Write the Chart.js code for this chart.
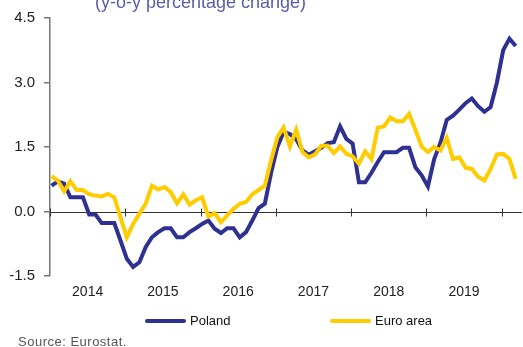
<!DOCTYPE html>
<html>
<head>
<meta charset="utf-8">
<script src="https://cdn.jsdelivr.net/npm/chart.js@4.4.1/dist/chart.umd.min.js"></script>
<style>
  html, body { margin: 0; padding: 0; background: #fff; overflow: hidden; }
  #wrap { position: relative; width: 523px; height: 347px; overflow: hidden; font-family: "Liberation Sans", Arial, sans-serif; }
  #chart { position: absolute; left: 0; top: 0; }
  .caption { position: absolute; white-space: nowrap; }
  #subtitle { left: 95px; top: -7px; font-size: 18px; line-height: 18px; color: #5b5ea8; }
  .key { position: absolute; top: 312px; height: 17px; display: flex; align-items: center; font-size: 13px; color: #111; }
  .key i { display: inline-block; width: 41px; height: 4px; border-radius: 2px; margin-right: 4px; }
  #source { left: 18px; top: 334px; font-size: 13px; line-height: 15px; letter-spacing: 0.5px; color: #555; }
</style>
</head>
<body>
<div id="wrap">
  <canvas id="chart" width="523" height="347"></canvas>
  <div id="subtitle" class="caption">(y-o-y percentage change)</div>
  <div class="key" style="left:145px"><i style="background:#2e3192"></i>Poland</div>
  <div class="key" style="left:330px"><i style="background:#ffcc00"></i>Euro area</div>
  <div id="source" class="caption">Source: Eurostat.</div>
</div>
<script>
// HICP, y-o-y % change, monthly from Jan 2014 to Mar 2020
const years = ['2014', '2015', '2016', '2017', '2018', '2019'];
const yTicks = [-1.5, 0, 1.5, 3, 4.5];

const poland = [
  0.6, 0.7, 0.65, 0.33, 0.33, 0.33, -0.07, -0.07, -0.27, -0.27, -0.27, -0.68,
  -1.1, -1.29, -1.18, -0.83, -0.6, -0.48, -0.39, -0.39, -0.6, -0.6, -0.48, -0.39,
  -0.29, -0.21, -0.4, -0.5, -0.39, -0.39, -0.6, -0.48, -0.21, 0.08, 0.18, 0.9,
  1.5, 1.85, 1.8, 1.68, 1.42, 1.32, 1.4, 1.48, 1.59, 1.61, 1.98, 1.69,
  1.58, 0.68, 0.68, 0.9, 1.15, 1.38, 1.38, 1.38, 1.48, 1.48, 1.03, 0.84,
  0.58, 1.22, 1.6, 2.13, 2.23, 2.37, 2.52, 2.63, 2.45, 2.32, 2.43, 3.0,
  3.75, 4.02, 3.85
];

const euroArea = [
  0.82, 0.72, 0.47, 0.7, 0.5, 0.5, 0.4, 0.37, 0.35, 0.41, 0.33, -0.15,
  -0.6, -0.29, -0.05, 0.18, 0.6, 0.51, 0.57, 0.45, 0.19, 0.4, 0.16, 0.26,
  0.33, -0.12, -0.04, -0.25, -0.09, 0.06, 0.18, 0.22, 0.4, 0.5, 0.6, 1.19,
  1.73, 1.95, 1.51, 1.9, 1.38, 1.26, 1.33, 1.53, 1.53, 1.36, 1.51, 1.34,
  1.28, 1.11, 1.4, 1.22, 1.95, 1.98, 2.19, 2.1, 2.1, 2.27, 1.9, 1.51,
  1.38, 1.5, 1.42, 1.71, 1.22, 1.26, 1.02, 0.99, 0.81, 0.72, 0.99, 1.33,
  1.34, 1.22, 0.76
];

const monthIndex = poland.map((_, i) => i);

// horizontal axis drawn through zero, with a small mark at each year boundary
const zeroAxis = {
  id: 'zeroAxis',
  beforeDatasetsDraw(chart) {
    const { ctx, chartArea, scales: { x, y } } = chart;
    const y0 = Math.round(y.getPixelForValue(0)) + 0.5;
    ctx.save();
    ctx.strokeStyle = '#333';
    ctx.lineWidth = 1;
    ctx.beginPath();
    ctx.moveTo(chartArea.left, y0);
    ctx.lineTo(chartArea.right, y0);
    for (let k = 0; k <= years.length; k++) {
      const px = Math.round(x.getPixelForValue(x.min + 12 * k)) + 0.5;
      ctx.moveTo(px, y0 - 4);
      ctx.lineTo(px, y0 + 4);
    }
    ctx.stroke();
    ctx.restore();
  }
};

new Chart(document.getElementById('chart').getContext('2d'), {
  type: 'line',
  data: {
    labels: monthIndex,
    datasets: [
      {
        label: 'Poland',
        data: poland,
        borderColor: '#2e3192',
        borderWidth: 4,
        pointRadius: 0,
        tension: 0,
        order: 1
      },
      {
        label: 'Euro area',
        data: euroArea,
        borderColor: '#ffcc00',
        borderWidth: 4,
        pointRadius: 0,
        tension: 0,
        order: 0
      }
    ]
  },
  options: {
    responsive: false,
    animation: false,
    devicePixelRatio: 1,
    layout: { padding: { left: 0, right: 1, top: 18, bottom: 41 } },
    plugins: {
      legend: { display: false },
      tooltip: { enabled: false }
    },
    scales: {
      x: {
        type: 'linear',
        min: -0.25,
        max: 75,
        afterBuildTicks: s => { s.ticks = years.map((_, k) => ({ value: s.min + 12 * k + 6 })); },
        afterFit: s => { s.height = 30; },
        ticks: {
          padding: 8,
          color: '#222',
          font: { family: '"Liberation Sans", Arial, sans-serif', size: 14 },
          maxRotation: 0,
          autoSkip: false,
          callback: (v, i) => years[i]
        },
        grid: { display: false, drawTicks: false },
        border: { display: false }
      },
      y: {
        min: -1.5,
        max: 4.5,
        afterBuildTicks: s => { s.ticks = yTicks.map(v => ({ value: v })); },
        afterFit: s => { s.width = 50; },
        ticks: {
          padding: 9,
          color: '#222',
          font: { family: '"Liberation Sans", Arial, sans-serif', size: 15 },
          callback: v => v.toFixed(1)
        },
        grid: { drawOnChartArea: false, drawTicks: true, tickLength: 6, color: '#777', lineWidth: 1.5 },
        border: { color: '#777', width: 1.5 }
      }
    }
  },
  plugins: [zeroAxis]
});
</script>
</body>
</html>
